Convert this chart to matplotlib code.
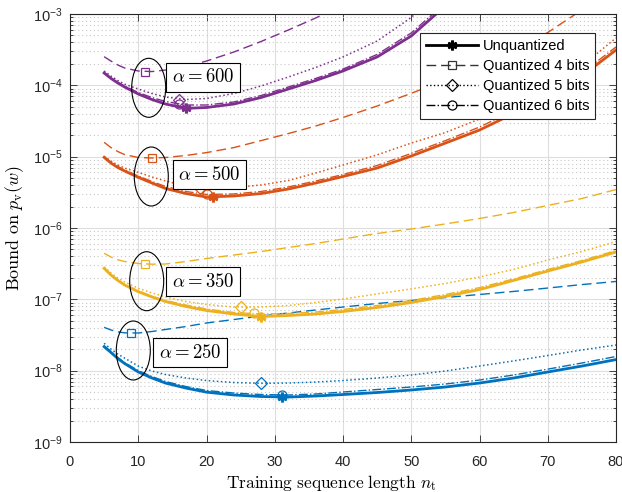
""" Bound on p_v(w) versus training sequence length """

import numpy as np
import matplotlib.pyplot as plt
from matplotlib.lines import Line2D
from matplotlib.patches import Ellipse
from matplotlib.ticker import FixedLocator, FuncFormatter, LogLocator, NullFormatter

plt.rcParams['font.family'] = ['Liberation Sans', 'DejaVu Sans']
plt.rcParams['mathtext.fontset'] = 'cm'

nan = np.nan

# training sequence lengths where the curves were read
n_t = [5, 6, 7, 8, 10, 12, 14, 17, 20, 24, 28, 32, 36, 40, 45, 50, 55, 60, 65, 70, 75, 80]

# alpha = 250
unq_250 = [2.17e-8, 1.80e-8, 1.48e-8, 1.26e-8, 9.6e-9, 7.9e-9, 6.7e-9, 5.7e-9, 5.0e-9, 4.56e-9, 4.34e-9,
           4.27e-9, 4.41e-9, 4.63e-9, 4.94e-9, 5.36e-9, 5.90e-9, 6.71e-9, 7.89e-9, 9.58e-9, 1.16e-8, 1.43e-8]
q4_250 = [4.05e-8, 3.72e-8, 3.50e-8, 3.39e-8, 3.37e-8, 3.54e-8, 3.78e-8, 4.16e-8, 4.66e-8, 5.21e-8, 5.84e-8,
          6.43e-8, 7.09e-8, 7.80e-8, 8.74e-8, 9.63e-8, 1.06e-7, 1.17e-7, 1.29e-7, 1.44e-7, 1.61e-7, 1.78e-7]
q5_250 = [2.42e-8, 2.01e-8, 1.71e-8, 1.50e-8, 1.16e-8, 9.89e-9, 8.83e-9, 7.89e-9, 7.27e-9, 6.82e-9, 6.65e-9,
          6.71e-9, 6.93e-9, 7.27e-9, 7.89e-9, 8.69e-9, 9.89e-9, 1.16e-8, 1.37e-8, 1.63e-8, 1.95e-8, 2.29e-8]
q6_250 = [2.22e-8, 1.86e-8, 1.53e-8, 1.30e-8, 1.00e-8, 8.28e-9, 7.05e-9, 5.99e-9, 5.27e-9, 4.86e-9, 4.63e-9,
          4.56e-9, 4.71e-9, 5.02e-9, 5.44e-9, 5.90e-9, 6.50e-9, 7.39e-9, 8.69e-9, 1.05e-8, 1.28e-8, 1.58e-8]

# alpha = 350
unq_350 = [2.72e-7, 2.19e-7, 1.84e-7, 1.59e-7, 1.28e-7, 1.08e-7, 9.32e-8, 7.93e-8, 6.97e-8, 6.23e-8, 5.74e-8,
           5.93e-8, 6.23e-8, 6.75e-8, 7.68e-8, 9.02e-8, 1.10e-7, 1.37e-7, 1.84e-7, 2.49e-7, 3.34e-7, 4.61e-7]
q4_350 = [4.42e-7, 3.92e-7, 3.59e-7, 3.39e-7, 3.18e-7, 3.11e-7, 3.13e-7, 3.39e-7, 3.74e-7, 4.18e-7, 4.68e-7,
          5.33e-7, 6.06e-7, 7.01e-7, 8.37e-7, 9.68e-7, 1.14e-6, 1.36e-6, 1.65e-6, 2.07e-6, 2.59e-6, 3.46e-6]
q5_350 = [2.84e-7, 2.34e-7, 1.99e-7, 1.75e-7, 1.43e-7, 1.23e-7, 1.08e-7, 9.32e-8, 8.46e-8, 7.80e-8, 7.80e-8,
          8.19e-8, 9.02e-8, 1.01e-7, 1.19e-7, 1.40e-7, 1.67e-7, 2.06e-7, 2.62e-7, 3.56e-7, 4.68e-7, 6.47e-7]
q6_350 = [2.75e-7, 2.23e-7, 1.87e-7, 1.61e-7, 1.31e-7, 1.11e-7, 9.63e-8, 8.32e-8, 7.32e-8, 6.54e-8, 6.23e-8,
          6.33e-8, 6.64e-8, 7.20e-8, 8.19e-8, 9.63e-8, 1.17e-7, 1.46e-7, 1.93e-7, 2.62e-7, 3.50e-7, 4.83e-7]

# alpha = 500
unq_500 = [9.79e-6, 8.15e-6, 7.05e-6, 6.30e-6, 5.14e-6, 4.27e-6, 3.58e-6, 3.04e-6, 2.72e-6, 2.81e-6, 3.04e-6,
           3.52e-6, 4.27e-6, 5.27e-6, 6.93e-6, 1.02e-5, 1.55e-5, 2.36e-5, 4.03e-5, 7.09e-5, 1.35e-4, 3.13e-4]
q4_500 = [1.59e-5, 1.34e-5, 1.18e-5, 1.07e-5, 9.73e-6, 9.58e-6, 9.73e-6, 1.04e-5, 1.14e-5, 1.34e-5, 1.68e-5,
          2.11e-5, 2.69e-5, 3.54e-5, 5.13e-5, 7.73e-5, 1.19e-4, 1.90e-4, 3.08e-4, 5.50e-4, 1.14e-3, 2.47e-3]
q5_500 = [1.01e-5, 8.70e-6, 7.64e-6, 6.93e-6, 6.03e-6, 5.19e-6, 4.56e-6, 3.88e-6, 3.64e-6, 3.70e-6, 4.01e-6,
          4.63e-6, 5.90e-6, 7.64e-6, 1.06e-5, 1.55e-5, 2.18e-5, 3.37e-5, 5.56e-5, 9.79e-5, 1.87e-4, 4.61e-4]
q6_500 = [9.89e-6, 8.28e-6, 7.28e-6, 6.50e-6, 5.36e-6, 4.49e-6, 3.82e-6, 3.25e-6, 2.95e-6, 3.00e-6, 3.25e-6,
          3.76e-6, 4.56e-6, 5.62e-6, 7.52e-6, 1.11e-5, 1.68e-5, 2.60e-5, 4.44e-5, 7.81e-5, 1.49e-4, 3.45e-4]

# alpha = 600
unq_600 = [1.49e-4, 1.25e-4, 1.08e-4, 9.48e-5, 7.56e-5, 6.33e-5, 5.47e-5, 4.76e-5, 4.89e-5, 5.47e-5, 6.75e-5,
           8.88e-5, 1.17e-4, 1.59e-4, 2.50e-4, 4.92e-4, 1.30e-3, 4.86e-3, nan, nan, nan, nan]
q4_600 = [2.52e-4, 2.19e-4, 1.93e-4, 1.75e-4, 1.59e-4, 1.56e-4, 1.64e-4, 1.84e-4, 2.19e-4, 2.93e-4, 4.12e-4,
          5.97e-4, 8.79e-4, 1.34e-3, 2.47e-3, nan, nan, nan, nan, nan, nan, nan]
q5_600 = [1.59e-4, 1.35e-4, 1.17e-4, 1.04e-4, 8.88e-5, 7.68e-5, 6.86e-5, 6.33e-5, 6.54e-5, 7.68e-5, 9.79e-5,
          1.31e-4, 1.78e-4, 2.50e-4, 4.18e-4, 8.93e-4, 2.55e-3, nan, nan, nan, nan, nan]
q6_600 = [1.51e-4, 1.27e-4, 1.10e-4, 9.79e-5, 7.93e-5, 6.75e-5, 5.93e-5, 5.30e-5, 5.30e-5, 5.84e-5, 7.20e-5,
          9.48e-5, 1.25e-4, 1.69e-4, 2.71e-4, 5.42e-4, 1.43e-3, 5.36e-3, nan, nan, nan, nan]

# marked minimum of each curve, ordered alpha = 250, 350, 500, 600
unq_min_n = [31, 28, 21, 17]
unq_min_val = [4.27e-9, 5.74e-8, 2.69e-6, 4.76e-5]
q4_min_n = [9, 11, 12, 11]
q4_min_val = [3.34e-8, 3.10e-7, 9.58e-6, 1.55e-4]
q5_min_n = [28, 25, 19, 16]
q5_min_val = [6.65e-9, 7.73e-8, 3.64e-6, 6.29e-5]
q6_min_n = [31, 27, 20, 16]
q6_min_val = [4.56e-9, 6.33e-8, 3.00e-6, 5.47e-5]

alphas = [250, 350, 500, 600]
colors = ['#0072BD', '#EDB120', '#D95319', '#7E2F8E']
legend_labels = ['Unquantized', 'Quantized 4 bits', 'Quantized 5 bits', 'Quantized 6 bits']


def main():
    """ Main Function """
    fig = plt.figure(figsize=(6.22, 4.92), dpi=100)
    ax = fig.add_axes([70 / 622, 50 / 492, 546 / 622, 428 / 492])

    unq = [unq_250, unq_350, unq_500, unq_600]
    q4 = [q4_250, q4_350, q4_500, q4_600]
    q5 = [q5_250, q5_350, q5_500, q5_600]
    q6 = [q6_250, q6_350, q6_500, q6_600]

    for i, col in enumerate(colors):
        ax.plot(n_t, unq[i], '-', color=col, lw=2.0)
        ax.plot(n_t, q4[i], color=col, lw=1.0, dashes=(7, 3.5))
        ax.plot(n_t, q5[i], ':', color=col, lw=1.1)
        ax.plot(n_t, q6[i], '-.', color=col, lw=1.0)
        # markers at the minima
        ax.plot(unq_min_n[i], unq_min_val[i], marker=(6, 2, 0), ms=7, mew=2, color=col)
        ax.plot(q4_min_n[i], q4_min_val[i], marker='s', ms=6, mew=0.9, mfc='none', color=col)
        ax.plot(q5_min_n[i], q5_min_val[i], marker='D', ms=6, mew=0.9, mfc='none', color=col)
        ax.plot(q6_min_n[i], q6_min_val[i], marker='o', ms=6.5, mew=0.9, mfc='none', color=col)

    ax.set_yscale('log')
    ax.set_xlim(0, 80)
    ax.set_ylim(1e-9, 1e-3)
    ax.xaxis.set_major_locator(FixedLocator(np.arange(0, 81, 10)))
    ax.yaxis.set_major_locator(LogLocator(base=10, numticks=10))
    ax.yaxis.set_minor_locator(LogLocator(base=10, subs=np.arange(2, 10), numticks=20))
    ax.yaxis.set_minor_formatter(NullFormatter())
    ax.yaxis.set_major_formatter(
        FuncFormatter(lambda v, pos: r'$\mathregular{10^{%d}}$' % round(np.log10(v))))

    ax.grid(True, which='major', color='#dedede', lw=0.8, ls='-')
    ax.grid(True, which='minor', axis='y', color='#c8c8c8', lw=0.8, ls=(0, (1, 2.5)))
    ax.set_axisbelow(True)
    ax.tick_params(which='both', direction='in', top=True, right=True, colors='#262626',
                   labelsize=10.5)
    ax.tick_params(which='major', length=5, width=0.6)
    ax.tick_params(which='minor', length=2.5, width=0.6)
    ax.tick_params(axis='x', pad=9)
    ax.tick_params(axis='y', pad=5)
    for spine in ax.spines.values():
        spine.set_color('#262626')
        spine.set_linewidth(0.8)

    ax.set_xlabel(r'$\mathrm{Training\ sequence\ length}\ n_{\rm t}$', fontsize=12.5)
    ax.set_ylabel(r'$\mathrm{Bound\ on}\ p_{\rm v}(w)$', fontsize=13)
    ax.xaxis.set_label_coords(0.478, -0.072)
    ax.yaxis.set_label_coords(-0.08, 0.5)

    # ellipses and labels in axes pixel fractions
    ell_centers = [(133.3, 350.5), (146.7, 281.2), (151.3, 176.5), (148.7, 87.8)]
    txt_centers = [(190.3, 352.8), (203.0, 281.7), (209.5, 174.8), (203.0, 77.5)]
    for (ex, ey), (tx, ty), a in zip(ell_centers, txt_centers, alphas):
        ax.add_patch(Ellipse(((ex - 70) / 546, (442 - ey) / 428), 34 / 546, 59 / 428,
                             transform=ax.transAxes, fill=False, ec='black', lw=0.8, zorder=5))
        ax.text((tx - 70) / 546, (442 - ty) / 428, r'$\alpha = %d$' % a, transform=ax.transAxes,
                ha='center', va='center', fontsize=13.5, zorder=6,
                bbox=dict(boxstyle='square,pad=0.3', fc='white', ec='black', lw=0.8))

    handles = [
        Line2D([], [], color='black', lw=2.0, marker=(6, 2, 0), ms=7, mew=2),
        Line2D([], [], color='#333333', lw=1.0, dashes=(7, 3.5), marker='s', ms=6, mew=0.9, mfc='none'),
        Line2D([], [], color='black', lw=1.0, ls=':', marker='D', ms=6, mew=0.9, mfc='none'),
        Line2D([], [], color='black', lw=1.0, ls='-.', marker='o', ms=6.5, mew=0.9, mfc='none'),
    ]
    leg = ax.legend(handles, legend_labels, loc='upper right',
                    bbox_to_anchor=((595 - 70) / 546, (442 - 33) / 428), borderaxespad=0,
                    fontsize=10.5, handlelength=3.6, numpoints=1, fancybox=False,
                    framealpha=1, edgecolor='#262626', borderpad=0.4, labelspacing=0.42,
                    handletextpad=0.3)
    leg.get_frame().set_linewidth(0.8)

    fig.savefig('out.png', dpi=100)


if __name__ == "__main__":
    main()
